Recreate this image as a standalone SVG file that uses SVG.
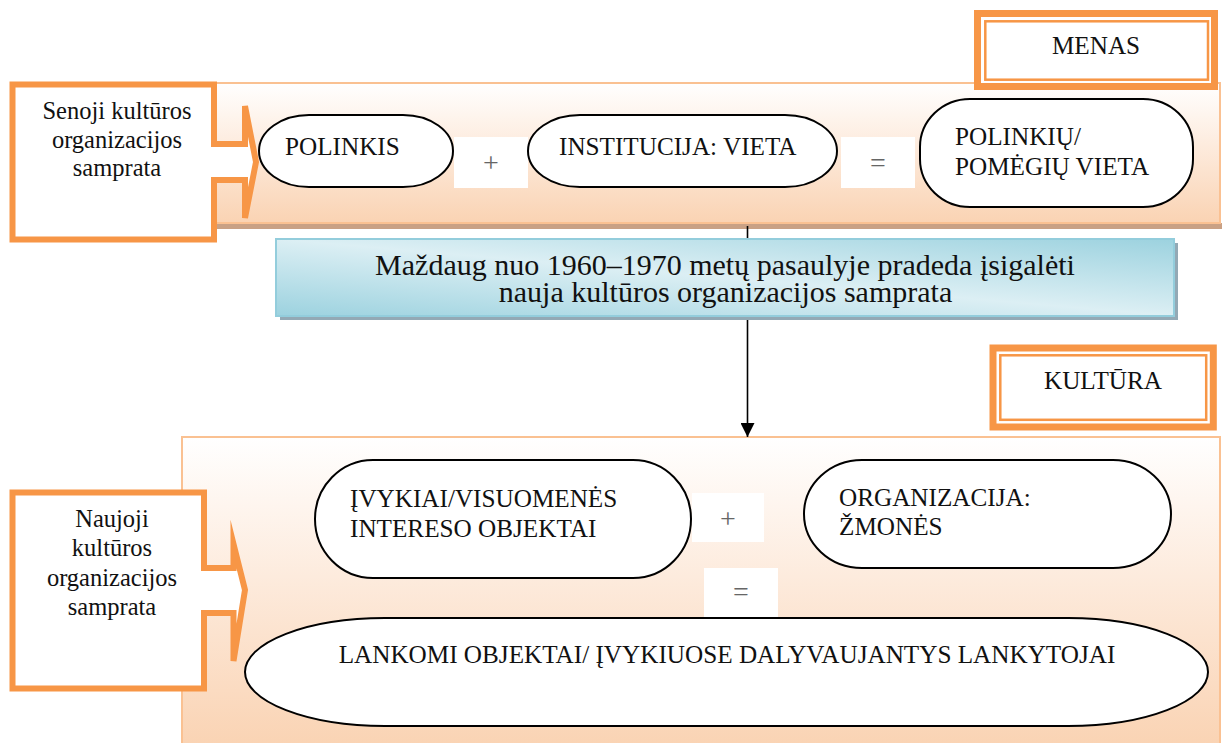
<svg xmlns="http://www.w3.org/2000/svg" width="1223" height="743" viewBox="0 0 1223 743" font-family="'Liberation Serif', 'Times New Roman', 'DejaVu Serif', serif">
<defs>
<linearGradient id="peach" x1="0" y1="0" x2="0" y2="1">
<stop offset="0" stop-color="#FFFFFF"/>
<stop offset="0.45" stop-color="#FDEBDD"/>
<stop offset="1" stop-color="#FAD3B3"/>
</linearGradient>
<linearGradient id="blue" x1="0" y1="1" x2="1" y2="0">
<stop offset="0" stop-color="#9CD2DF"/>
<stop offset="0.5" stop-color="#DCEFF4"/>
<stop offset="1" stop-color="#9CD2DF"/>
</linearGradient>
<marker id="arr" markerWidth="14" markerHeight="14" refX="14" refY="7" orient="auto" markerUnits="userSpaceOnUse">
<path d="M0,0 L14,7 L0,14 Z" fill="#000"/>
</marker>
<style>
text{font-family:'Liberation Serif','Times New Roman','DejaVu Serif',serif}
.t{font-size:24.5px;fill:#111}
.n{font-size:25.2px;fill:#111}
.big{font-size:30px;fill:#111}
.op{font-size:28px;fill:#666}
.panel{fill:url(#peach);stroke:#FAC192;stroke-width:2}
.pill{fill:#FFFFFF;stroke:#000;stroke-width:2}
.opbox{fill:#FFFFFF}
.callout{fill:#FFFFFF;stroke:#F79646;stroke-width:6;stroke-linejoin:miter;stroke-miterlimit:10}
.thick{fill:#FFFFFF;stroke:#F79646;stroke-width:7}
.thin{fill:none;stroke:#F79646;stroke-width:2.5}
</style>
</defs>

<!-- top panel -->
<g id="panel-top">
<rect x="215" y="223" width="1007" height="6" fill="#C9A185"/>
<rect x="205" y="83" width="1015" height="140" class="panel"/>
</g>

<!-- bottom panel -->
<g id="panel-bottom">
<rect x="182" y="437" width="1038" height="310" class="panel"/>
</g>

<!-- connectors -->
<g id="connectors">
<line x1="747.5" y1="226" x2="747.5" y2="437" stroke="#000" stroke-width="1.6" marker-end="url(#arr)"/>
</g>

<!-- banner -->
<g id="banner">
<rect x="280" y="243" width="898" height="77" fill="#93A9B5"/>
<rect x="276" y="239" width="898" height="77" fill="url(#blue)" stroke="#93CDDC" stroke-width="2"/>
<text class="big" x="725" y="275" text-anchor="middle">Maždaug nuo 1960–1970 metų pasaulyje pradeda įsigalėti</text>
<text class="big" x="725.5" y="302" text-anchor="middle">nauja kultūros organizacijos samprata</text>
</g>

<!-- MENAS -->
<g id="menas">
<rect x="977.5" y="13.5" width="237" height="73" class="thick"/>
<rect x="985.3" y="21.3" width="222.7" height="58.4" class="thin"/>
<text class="n" x="1096" y="54" text-anchor="middle">MENAS</text>
</g>

<!-- KULTURA -->
<g id="kultura">
<rect x="993" y="348" width="220.3" height="79" class="thick"/>
<rect x="1000.3" y="355.3" width="205.9" height="64.5" class="thin"/>
<text class="n" x="1103" y="389" text-anchor="middle">KULTŪRA</text>
</g>

<!-- top callout -->
<g id="callout-old">
<path class="callout" d="M12.5,84.5 H214 V144 H245 V106 L256,162 L245,218 V180 H214 V239.5 H12.5 Z"/>
<text class="t" x="117" y="119" text-anchor="middle">Senoji kultūros</text>
<text class="t" x="117" y="147.5" text-anchor="middle">organizacijos</text>
<text class="t" x="117" y="176" text-anchor="middle">samprata</text>
</g>

<!-- bottom callout -->
<g id="callout-new">
<path class="callout" d="M12.5,492.5 H204 V568 H233.5 V544 L245,590 L233.5,661 V613 H204 V688.5 H12.5 Z"/>
<text class="t" x="112" y="526.5" text-anchor="middle">Naujoji</text>
<text class="t" x="112" y="556" text-anchor="middle">kultūros</text>
<text class="t" x="112" y="585.5" text-anchor="middle">organizacijos</text>
<text class="t" x="112" y="615" text-anchor="middle">samprata</text>
</g>

<!-- top row nodes -->
<g id="polinkis">
<rect x="259" y="115" width="194" height="72" rx="50" ry="36" class="pill"/>
<text class="n" x="285" y="155">POLINKIS</text>
</g>
<g id="plus-top">
<rect x="454" y="137" width="74" height="51" class="opbox"/>
<text class="op" x="491" y="172" text-anchor="middle">+</text>
</g>
<g id="institucija">
<rect x="528" y="115" width="309" height="72" rx="52" ry="36" class="pill"/>
<text class="n" x="559" y="155">INSTITUCIJA: VIETA</text>
</g>
<g id="eq-top">
<rect x="841" y="137" width="74" height="51" class="opbox"/>
<text class="op" x="878" y="172" text-anchor="middle">=</text>
</g>
<g id="polinkiu-vieta">
<rect x="920" y="99" width="273" height="108" rx="50" ry="48" class="pill"/>
<text class="n" x="955" y="145">POLINKIŲ/</text>
<text class="n" x="955" y="175">POMĖGIŲ VIETA</text>
</g>

<!-- bottom nodes -->
<g id="ivykiai">
<rect x="315" y="460" width="376" height="118" rx="58" ry="59" class="pill"/>
<text class="n" x="350" y="507">ĮVYKIAI/VISUOMENĖS</text>
<text class="n" x="350" y="537">INTERESO OBJEKTAI</text>
</g>
<g id="plus-bottom">
<rect x="692" y="493" width="72" height="49" class="opbox"/>
<text class="op" x="728" y="528" text-anchor="middle">+</text>
</g>
<g id="organizacija">
<rect x="804" y="460" width="367" height="108" rx="58" ry="54" class="pill"/>
<text class="n" x="839" y="506">ORGANIZACIJA:</text>
<text class="n" x="839" y="535">ŽMONĖS</text>
</g>
<g id="eq-bottom">
<rect x="704" y="568" width="74" height="52" class="opbox"/>
<text class="op" x="741" y="601" text-anchor="middle">=</text>
</g>
<g id="lankomi">
<rect x="245" y="618" width="963" height="108" rx="140" ry="54" class="pill"/>
<text class="n" x="727" y="663" text-anchor="middle">LANKOMI OBJEKTAI/ ĮVYKIUOSE DALYVAUJANTYS LANKYTOJAI</text>
</g>
</svg>
